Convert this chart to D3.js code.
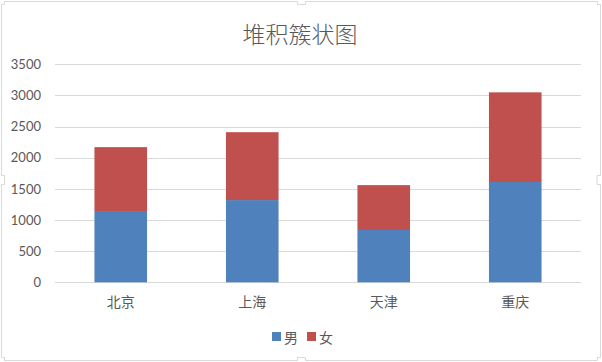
<!DOCTYPE html>
<html>
<head>
<meta charset="utf-8">
<script src="https://cdn.jsdelivr.net/npm/d3@7"></script>
<style>
  html, body { margin: 0; padding: 0; background: #fff; }
  svg text { font-family: "Noto Sans CJK SC", Lato, sans-serif; fill: #595959; }
</style>
</head>
<body>
<div id="chart"></div>
<script>
const cities = ["北京", "上海", "天津", "重庆"];
const seriesNames = ["男", "女"];
const maleValues = [1130, 1320, 840, 1610];
const femaleValues = [1040, 1090, 720, 1440];
const yTicks = [0, 500, 1000, 1500, 2000, 2500, 3000, 3500];
const colors = ["#4f81bd", "#c0504d"];

const width = 602;
const height = 362;
const plotLeft = 55, plotRight = 581, plotTop = 64.3, plotBottom = 282.3;

const svg = d3.select("#chart")
  .append("svg")
  .attr("width", width)
  .attr("height", height);

// chart frame with the little handles
svg.append("path")
  .attr("d", "M4.5,1.5 H297.5 V4.5 H305.5 V1.5 H597.5 V4.5 H600.5 V175.5 H597 V184.5 H600.5 V357.5 H597.5 V360.5 H305.5 V357.5 H297.5 V360.5 H4.5 V357.5 H1.5 V184.5 H4.5 V175.5 H1.5 V4.5 H4.5 Z")
  .attr("fill", "none")
  .attr("stroke", "#d9d9d9")
  .attr("stroke-width", 1);

svg.append("text")
  .attr("x", 300)
  .attr("y", 33)
  .attr("text-anchor", "middle")
  .attr("dominant-baseline", "central")
  .style("font-size", "23px")
  .style("font-weight", 300)
  .text("堆积簇状图");

const x = d3.scaleBand()
  .domain(cities)
  .range([plotLeft, plotRight])
  .paddingInner(0.6)
  .paddingOuter(0.3);

const y = d3.scaleLinear()
  .domain([0, 3500])
  .range([plotBottom, plotTop]);

// gridlines
svg.append("g")
  .selectAll("line")
  .data(yTicks)
  .enter()
  .append("line")
  .attr("x1", plotLeft)
  .attr("x2", plotRight)
  .attr("y1", d => Math.round(y(d)) + 0.5)
  .attr("y2", d => Math.round(y(d)) + 0.5)
  .attr("stroke", "#d9d9d9");

const yAxis = d3.axisLeft(y)
  .tickValues(yTicks)
  .tickFormat(d3.format("d"))
  .tickSize(0)
  .tickPadding(0);
const gy = svg.append("g")
  .attr("transform", "translate(41,0)")
  .call(yAxis);
gy.select(".domain").remove();
gy.selectAll("text")
  .attr("fill", "#595959")
  .style("font-family", "Lato, sans-serif")
  .style("font-size", "13px");

const stack = d3.stack().keys([0, 1]);
const rows = cities.map((c, i) => ({ city: c, 0: maleValues[i], 1: femaleValues[i] }));
const layers = stack(rows);

svg.append("g")
  .selectAll("g")
  .data(layers)
  .enter()
  .append("g")
  .attr("fill", (d, i) => colors[i])
  .selectAll("rect")
  .data(d => d)
  .enter()
  .append("rect")
  .attr("x", d => x(d.data.city))
  .attr("width", x.bandwidth())
  .attr("y", d => y(d[1]))
  .attr("height", d => y(d[0]) - y(d[1]));

const xAxis = d3.axisBottom(x).tickSize(0).tickPadding(0);
const gx = svg.append("g")
  .attr("transform", "translate(0,300.5)")
  .call(xAxis);
gx.select(".domain").remove();
gx.selectAll("text")
  .attr("fill", "#595959")
  .attr("dy", null)
  .attr("dominant-baseline", "central")
  .style("font-family", "'Noto Sans CJK SC', sans-serif")
  .style("font-size", "14px");

// legend
const legendX = [272, 307];
const legend = svg.append("g")
  .selectAll("g")
  .data(seriesNames)
  .enter()
  .append("g")
  .attr("transform", (d, i) => "translate(" + legendX[i] + ",332)");

legend.append("rect")
  .attr("width", 9)
  .attr("height", 9)
  .attr("fill", (d, i) => colors[i]);

legend.append("text")
  .attr("x", 12)
  .attr("y", 4.5)
  .attr("dominant-baseline", "central")
  .style("font-size", "14px")
  .text(d => d);
</script>
</body>
</html>
